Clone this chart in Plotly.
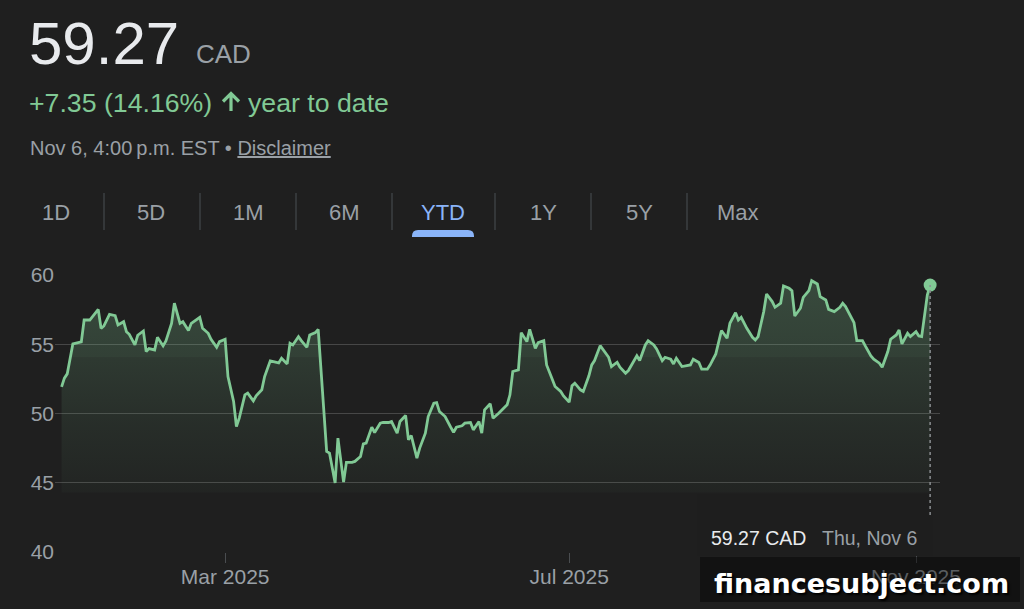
import plotly.graph_objects as go

# ---------------- data ----------------
dates = [
    "2025-01-02", "2025-01-03", "2025-01-04", "2025-01-06", "2025-01-09", "2025-01-10", "2025-01-12",
    "2025-01-15", "2025-01-16", "2025-01-17", "2025-01-19", "2025-01-21", "2025-01-22", "2025-01-24",
    "2025-01-25", "2025-01-26", "2025-01-28", "2025-01-29", "2025-01-31", "2025-02-01", "2025-02-02",
    "2025-02-04", "2025-02-05", "2025-02-07", "2025-02-08", "2025-02-10", "2025-02-11", "2025-02-13",
    "2025-02-14", "2025-02-16", "2025-02-17", "2025-02-20", "2025-02-21", "2025-02-23", "2025-02-24",
    "2025-02-26", "2025-02-27", "2025-03-01", "2025-03-02", "2025-03-04", "2025-03-05", "2025-03-06",
    "2025-03-08", "2025-03-09", "2025-03-11", "2025-03-12", "2025-03-14", "2025-03-15", "2025-03-17",
    "2025-03-18", "2025-03-20", "2025-03-21", "2025-03-23", "2025-03-24", "2025-03-25", "2025-03-27",
    "2025-03-28", "2025-03-30", "2025-03-31", "2025-04-02", "2025-04-03", "2025-04-06", "2025-04-07",
    "2025-04-09", "2025-04-10", "2025-04-12", "2025-04-13", "2025-04-15", "2025-04-16", "2025-04-18",
    "2025-04-19", "2025-04-20", "2025-04-22", "2025-04-23", "2025-04-25", "2025-04-26", "2025-04-28",
    "2025-04-29", "2025-05-01", "2025-05-02", "2025-05-04", "2025-05-05", "2025-05-06", "2025-05-08",
    "2025-05-09", "2025-05-11", "2025-05-12", "2025-05-14", "2025-05-15", "2025-05-16", "2025-05-18",
    "2025-05-20", "2025-05-21", "2025-05-22", "2025-05-24", "2025-05-25", "2025-05-27", "2025-05-28",
    "2025-05-30", "2025-05-31", "2025-06-01", "2025-06-03", "2025-06-04", "2025-06-06", "2025-06-08",
    "2025-06-09", "2025-06-10", "2025-06-11", "2025-06-13", "2025-06-14", "2025-06-16", "2025-06-17",
    "2025-06-19", "2025-06-20", "2025-06-22", "2025-06-23", "2025-06-25", "2025-06-26", "2025-06-28",
    "2025-06-29", "2025-07-01", "2025-07-02", "2025-07-03", "2025-07-05", "2025-07-06", "2025-07-08",
    "2025-07-09", "2025-07-10", "2025-07-12", "2025-07-13", "2025-07-15", "2025-07-16", "2025-07-18",
    "2025-07-19", "2025-07-21", "2025-07-22", "2025-07-24", "2025-07-25", "2025-07-26", "2025-07-28",
    "2025-07-29", "2025-07-31", "2025-08-01", "2025-08-03", "2025-08-04", "2025-08-06", "2025-08-07",
    "2025-08-08", "2025-08-10", "2025-08-11", "2025-08-13", "2025-08-14", "2025-08-16", "2025-08-17",
    "2025-08-19", "2025-08-20", "2025-08-22", "2025-08-24", "2025-08-26", "2025-08-27", "2025-08-29",
    "2025-08-30", "2025-08-31", "2025-09-02", "2025-09-04", "2025-09-05", "2025-09-06", "2025-09-08",
    "2025-09-09", "2025-09-11", "2025-09-12", "2025-09-14", "2025-09-15", "2025-09-17", "2025-09-18",
    "2025-09-19", "2025-09-21", "2025-09-22", "2025-09-24", "2025-09-25", "2025-09-27", "2025-09-28",
    "2025-09-30", "2025-10-01", "2025-10-03", "2025-10-05", "2025-10-06", "2025-10-07", "2025-10-09",
    "2025-10-10", "2025-10-11", "2025-10-13", "2025-10-14", "2025-10-16", "2025-10-17", "2025-10-19",
    "2025-10-20", "2025-10-22", "2025-10-23", "2025-10-25", "2025-10-26", "2025-10-27", "2025-10-29",
    "2025-10-30", "2025-11-01", "2025-11-02", "2025-11-03", "2025-11-05", "2025-11-06",
]

prices = [
    51.92, 52.55, 52.86, 55.02, 55.17, 56.75, 56.75,
    57.52, 56.15, 56.32, 57.16, 57.07, 56.39, 56.63,
    55.91, 55.72, 54.95, 55.65, 55.96, 54.47, 54.69,
    54.59, 55.50, 54.88, 55.24, 56.51, 57.96, 56.51,
    56.63, 55.99, 56.51, 56.95, 56.15, 55.79, 55.36,
    54.78, 55.19, 55.36, 52.67, 50.87, 49.06, 49.67,
    51.35, 51.47, 50.91, 51.27, 51.71, 52.67, 53.80,
    53.75, 53.65, 53.99, 53.58, 55.07, 54.95, 55.55,
    55.26, 54.78, 55.67, 55.84, 56.08, 47.26, 47.14,
    44.98, 48.22, 45.05, 46.47, 46.47, 46.54, 46.90,
    47.81, 47.86, 49.01, 48.63, 49.30, 49.35, 49.35,
    49.42, 48.58, 49.42, 49.86, 48.10, 48.41, 46.78,
    47.50, 48.58, 49.78, 50.75, 50.79, 50.14, 49.78,
    49.01, 48.65, 49.01, 49.11, 49.30, 49.35, 48.82,
    49.42, 48.58, 50.26, 50.70, 49.66, 50.02, 50.38,
    50.63, 51.35, 53.03, 53.15, 55.84, 55.19, 56.08,
    54.71, 55.12, 55.26, 53.51, 52.48, 51.95, 51.59,
    51.27, 50.82, 52.00, 52.19, 51.71, 51.59, 52.72,
    53.51, 53.82, 54.90, 54.59, 54.06, 53.39, 53.70,
    53.34, 52.91, 53.10, 53.87, 54.16, 53.82, 54.95,
    55.26, 54.95, 54.66, 53.82, 54.06, 53.92, 53.58,
    53.99, 53.39, 53.44, 53.51, 53.92, 53.68, 53.20,
    53.20, 53.51, 54.30, 55.99, 55.43, 56.51, 57.28,
    56.75, 56.95, 56.15, 55.50, 55.31, 55.55, 57.36,
    58.63, 58.08, 57.67, 57.96, 59.21, 59.04, 58.87,
    57.04, 57.60, 58.39, 58.87, 59.59, 59.35, 58.44,
    58.20, 57.52, 57.36, 57.67, 57.96, 57.72, 57.00,
    56.56, 55.26, 55.26, 54.88, 54.16, 53.92, 53.63,
    53.34, 54.47, 55.36, 55.67, 56.03, 55.02, 55.79,
    55.55, 55.91, 55.60, 55.55, 58.56, 59.27,
]

y_ticks = [40, 45, 50, 55, 60]
x_tick_dates = ["2025-03-01", "2025-07-01", "2025-11-01"]
x_tick_labels = ["Mar 2025", "Jul 2025", "Nov 2025"]
tabs = ["1D", "5D", "1M", "6M", "YTD", "1Y", "5Y", "Max"]
selected_tab = "YTD"

price_text = "59.27"
currency = "CAD"
change_value = "+7.35 (14.16%)"
change_period = "year to date"
time_text = "Nov 6, 4:00\u2009p.m. EST • <u>Disclaimer</u>"
tooltip_price = "59.27 CAD"
tooltip_date = "Thu, Nov 6"
watermark = "financesubject.com"

# ---------------- style ----------------
W, H = 1024, 609
L, R, T, B = 55, 940, 275, 552
BG = "#1f1f1f"
GREEN = "#81c995"
GRAY = "#9aa0a6"
WHITE = "#e8eaed"
BLUE = "#8ab4f8"
FONT = "Liberation Sans, Arial, Helvetica, sans-serif"
FILL_BASE = 44.3


def px(x):
    return (x - L) / (R - L)


def py(y):
    return (B - y) / (B - T)


def g(a):
    return f"rgba(129,201,149,{a})"


fig = go.Figure()

# baseline for the area fill
fig.add_trace(go.Scatter(
    x=dates, y=[FILL_BASE] * len(dates), mode="lines",
    line=dict(width=0, color="rgba(0,0,0,0)"), hoverinfo="skip", showlegend=False,
))
# price line with gradient fill
fig.add_trace(go.Scatter(
    x=dates, y=prices, mode="lines",
    line=dict(color=GREEN, width=2.8),
    fill="tonexty",
    fillgradient=dict(
        type="vertical", start=FILL_BASE, stop=60,
        colorscale=[
            [0.0, g(0.03)], [0.136, g(0.055)], [0.31, g(0.085)],
            [0.484, g(0.125)], [0.62, g(0.155)], [0.625, g(0.195)],
            [1.0, g(0.26)],
        ],
    ),
    hoverinfo="skip", showlegend=False,
))
# last point marker
fig.add_trace(go.Scatter(
    x=[dates[-1]], y=[prices[-1]], mode="markers",
    marker=dict(color=GREEN, size=13), hoverinfo="skip", showlegend=False,
    cliponaxis=False,
))

shapes = []
# tooltip box (covers baseline grid)
shapes.append(dict(type="rect", xref="paper", yref="paper", layer="above",
                   x0=px(697), x1=px(933), y0=py(494), y1=py(556),
                   fillcolor="#1e1e1e", line=dict(width=0)))
# crosshair
shapes.append(dict(type="line", xref="x", yref="paper", layer="above",
                   x0=dates[-1], x1=dates[-1], y0=py(515), y1=py(285),
                   line=dict(color="#8a8d90", width=1.5, dash="dot")))
# tab separators
for sx in [104, 200, 296, 392, 495, 591, 687]:
    shapes.append(dict(type="line", xref="paper", yref="paper",
                       x0=px(sx), x1=px(sx), y0=py(193), y1=py(230),
                       line=dict(color="#3c4043", width=1.5)))
# selected tab indicator (rounded top)
x0, x1, y0, y1 = px(412), px(474), py(237), py(230)
rx, ry = 6 / (R - L), 6 / (B - T)
shapes.append(dict(
    type="path", xref="paper", yref="paper", fillcolor=BLUE, line=dict(width=0),
    path=(f"M {x0},{y0} L {x0},{y1 - ry} Q {x0},{y1} {x0 + rx},{y1} "
          f"L {x1 - rx},{y1} Q {x1},{y1} {x1},{y1 - ry} L {x1},{y0} Z"),
))
# up-arrow icon next to the change
ax = 231
shapes.append(dict(
    type="path", xref="paper", yref="paper", line=dict(color=GREEN, width=3.2),
    path=(f"M {px(ax)},{py(111)} L {px(ax)},{py(94.5)} "
          f"M {px(ax - 8)},{py(101.5)} L {px(ax)},{py(93.5)} L {px(ax + 8)},{py(101.5)}"),
))
# watermark box
shapes.append(dict(type="rect", xref="paper", yref="paper", layer="above",
                   x0=px(700), x1=px(1020), y0=py(602), y1=py(557),
                   fillcolor="rgba(0,0,0,0.42)", line=dict(width=0)))

annotations = []


def ann(text, x, y, size, color, xanchor="left", **kw):
    annotations.append(dict(
        text=text, x=px(x), y=py(y), xref="paper", yref="paper",
        xanchor=xanchor, yanchor="middle", showarrow=False,
        font=dict(family=kw.pop("family", FONT), size=size, color=color, **kw.pop("fontkw", {})),
        **kw,
    ))


ann(price_text, 27, 43, 60, WHITE)
ann(currency, 194, 54, 26, GRAY)
ann(change_value, 27, 103, 26.7, GREEN)
ann(change_period, 246, 103, 26.7, GREEN)
ann(time_text, 28, 148, 20, GRAY)

tab_centers = [56, 151, 248, 344, 443, 543, 639, 738]
for t, cx in zip(tabs, tab_centers):
    ann(t, cx, 212, 22, BLUE if t == selected_tab else GRAY, xanchor="center")

ann(tooltip_price, 709, 538, 19.5, WHITE)
ann(tooltip_date, 820, 538, 19.5, GRAY)

ann(watermark, 861, 583, 27, "#ffffff", xanchor="center",
    family="DejaVu Sans, sans-serif",
    fontkw=dict(weight="bold", shadow="2px 2px 2px #000000"))

fig.update_layout(
    width=W, height=H, autosize=False,
    margin=dict(l=L, r=W - R, t=T, b=H - B, pad=0),
    paper_bgcolor=BG, plot_bgcolor=BG,
    showlegend=False, hovermode=False,
    font=dict(family=FONT, color=GRAY),
    shapes=shapes, annotations=annotations,
    xaxis=dict(
        type="date", range=["2024-12-30 16:00", "2025-11-09 12:00"],
        tickvals=x_tick_dates, ticktext=x_tick_labels,
        showgrid=False, zeroline=False, showline=False,
        ticks="outside", ticklen=10, tickwidth=1, tickcolor="#4a4d50",
        ticklabelstandoff=-4,
        tickfont=dict(size=21, color=GRAY, family=FONT),
        fixedrange=True,
    ),
    yaxis=dict(
        range=[40, 60], tickvals=y_ticks,
        showgrid=True, gridcolor="#474747", gridwidth=1.2,
        zeroline=False, showline=False, ticks="",
        tickfont=dict(size=21, color=GRAY, family=FONT),
        fixedrange=True,
    ),
)

fig.write_html("out.html", config={"displayModeBar": False, "staticPlot": True})
